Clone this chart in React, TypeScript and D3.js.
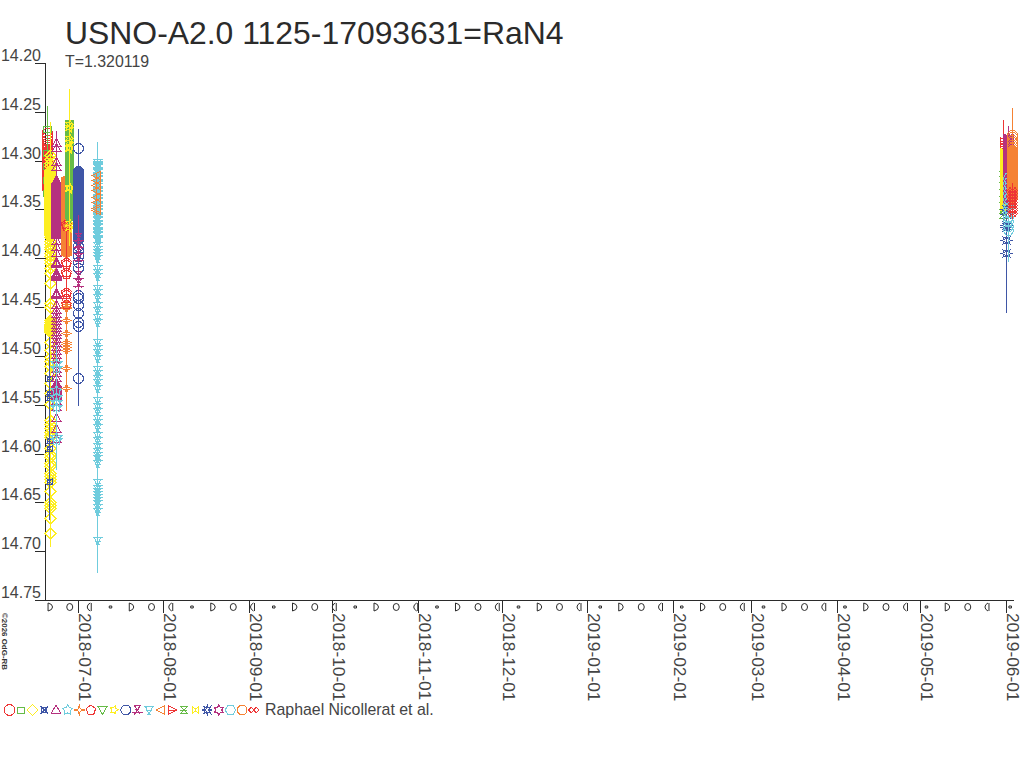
import React from "react";
import * as d3 from "d3";

const W = 1024, H = 768;
const titleText = "USNO-A2.0 1125-17093631=RaN4";
const subtitleText = "T=1.320119";
const creditText = "Raphael Nicollerat et al.";
const copyrightText = "©2026 OdG-RB";
const yTickValues = [14.2, 14.25, 14.3, 14.35, 14.4, 14.45, 14.5, 14.55, 14.6, 14.65, 14.7, 14.75];
const xTickDates = ["2018-07-01","2018-08-01","2018-09-01","2018-10-01","2018-11-01","2018-12-01","2019-01-01","2019-02-01","2019-03-01","2019-04-01","2019-05-01","2019-06-01"];
const minorDays = [-9.9,-2.8,4.6,12,19.4,26.7,34,41.4,48.8,56.2,63.5,70.9,78.3,85.6,93,100.3,107.7,115,122.4,129.8,137.1,144.5,151.8,159.2,166.6,173.9,181.3,188.7,196,203.4,210.7,218.1,225.5,232.8,240.2,247.6,254.9,262.3,269.6,277,284.4,291.7,299.1,306.4,313.8,321.2,328.5,336.6];
const legendColors = ["#ee3535","#66bb47","#fdee21","#3f56a6","#b5317f","#6fccdd","#f58234","#ee3535","#66bb47","#fdee21","#3f56a6","#b5317f","#6fccdd","#f58234","#ee3535","#66bb47","#fdee21","#3f56a6","#b5317f","#6fccdd","#f58234","#ee3535"];

// magnitudes in thousandths above 14
const s0Mag = [272,276,279,282,284,286,288,290,291,292,293,294,295,296,297,298,299,300,301,302,303,304,305,306,307,308,309,310,311,312,313,314,315,316,317,318,319,320,321,322,323,324,325,326,327,328];
const s1Mag = [268,292,305,320,333];
const s2Mag = [294,298,302,306,310,311,312,313,314,315,316,317,318,319,320,321,322,323,324,325,326,327,328,329,330,331,332,333,334,335,336,337,338,339,340,341,342,343,344,345,346,347,348,349,350,351,352,353,354,355,356,357,358,359,360,361,362,363,364,365,366,367,368,369,370,371,372,373,374,375,376,378,382,385,388,391,395,398,402,405,410,415,425,446,450,463,465,467,468,469,470,471,472,473,474,476,486,494,501,505,510,518,528,538,549,566,570,574,578,581,583,594,600,604,610,613,620,623,626,629,638,650,653,656,666,681];
const s3Mag = [523,538,542,586,594,628];
const s4Mag = [282,287,301,307,320,321,322,323,324,325,326,327,328,329,330,331,332,333,334,335,336,337,338,339,340,341,342,343,344,345,346,347,348,349,350,351,352,353,354,355,356,357,358,359,360,361,362,363,364,365,366,367,368,369,370,371,372,373,374,375,376,382,388,395,404,405,406,415,416,417,418,419,436,437,438,448,453,457,461,464,468,471,476,479,483,487,491,495,499,503,508,513,518,523,528,529,530,531,532,533,534,535,536,537,538,539,540,541,546,552,564,575,585];
const s5Mag = [507,512,535,542,547,552,583,586];
const s6Mag = [317,318,319,320,321,322,323,324,325,326,327,328,329,330,331,332,333,334,335,336,337,338,339,340,341,342,343,344,345,346,347,348,349,350,351,352,353,354,355,356,357,358,359,360,361,362,363,364,365,366,367,368,369,370,371,372,373,374,375,376,377,378,379,380,381,382,383,384,385,386,387,388,389,390,391,392,393,394,395,396,397,446,448,450,451,463,477,486,488,491,494,512,533];
const s7Mag = [365,367,404,406,414,416,435,437,441,447];
const s8Mag = [261,262,263,264,265,266,267,268,269,270,271,272,273,274,275,276,277,278,279,280,281,282,283,284,285,286,287,288,289,290,291,292,293,294,295,296,297,298,299,300,301,302,303,304,305,306,307,308,309,310,311,312,313,314,315,316,317,318,319,320,321,322,323,324,325,326,327,328,329,330,331,332,333,334,335,336,337,338,339,340,341,342,343,344,345,346,347,348,349,350,351,352,353,354,355,356,357,358,359,360,361];
const s9Mag = [262,266,277,281,286,287,327,328,364,368];
const s10Mag = [287,311,312,313,314,315,316,317,318,319,320,321,322,323,324,325,326,327,328,329,330,331,332,333,334,335,336,337,338,339,340,341,342,343,344,345,346,347,348,349,350,351,352,353,354,355,356,357,358,359,360,361,362,363,364,365,366,367,368,369,370,371,372,373,374,375,376,377,378,379,380,387,392,398,404,410,438,441,448,456,465,469,523];
const s11Mag = [378,385,392,399,417,425];
const s12Mag = [301,303,304,306,307,310,311,312,315,316,318,319,322,323,324,326,329,330,331,333,334,337,338,340,341,344,345,346,349,350,352,353,356,357,358,360,361,364,365,367,368,371,372,373,375,376,379,380,381,386,390,394,397,400,410,414,418,430,435,440,448,453,460,465,486,492,496,502,513,517,523,527,533,545,551,556,564,568,573,581,586,592,597,602,605,610,629,635,638,641,644,648,651,655,659,689];
const s13Mag = [315,320,325,330,337,342,348,351];
const s14Mag = [280,285,290,296,302,308,315,322,330,338];
const s15Mag = [307,312,318,325,332,338,345,350,355];
const s16Mag = [290,291,292,293,294,295,296,297,298,299,300,301,302,303,304,305,306,307,308,309,310,311,312,313,314,315,316,317,318,319,320,321,322,323,324,325,326,327,328,329,330,331,332,333,334,335,336,337,338,339,340,341,342,343,344,345,346,347];
const s17Mag = [350,355,366,368,381,395];
const s18Mag = [276,277,278,279,280,281,282,283,284,285,286,287,288,289,290,291,292,293,294,295,296,297,298,299,300,301,302,303,304,305,306,307,308,309,310,311,312,313,314,315,316,317,318,319,320,321,322,323,324,325,326,327,328,329,330,331,332,333,334,335,336,337,338,339,340];
const s19Mag = [318,323,328,333,339,344,348,353,358,362,367,371];
const s20Mag = [274,276,279,281,284,287,289,290,291,292,293,294,295,296,297,298,299,300,301,302,303,304,305,306,307,308,309,310,311,312,313,314,315,316,317,318,319,320,321,322,323,324,325,326,327,328,329,330,331,332,333,334,335,336,337];
const s21Mag = [330,333,336,339,342,345,348,351,354];

const seriesDates = ["2018-06-20T00:00","2018-06-19T20:00","2018-06-21T02:00","2018-06-20T20:00","2018-06-23T02:00","2018-06-23T02:00","2018-06-26T18:00","2018-06-26T18:00","2018-06-27T22:00","2018-06-28T00:00","2018-07-01T00:00","2018-07-01T00:00","2018-07-07T22:00","2018-07-07T12:00","2019-05-31T00:00","2019-05-31T02:00","2019-05-31T02:00","2019-06-01T00:00","2019-06-01T20:00","2019-06-01T20:00","2019-06-03T04:00","2019-06-03T00:00"];
const seriesMags = [s0Mag,s1Mag,s2Mag,s3Mag,s4Mag,s5Mag,s6Mag,s7Mag,s8Mag,s9Mag,s10Mag,s11Mag,s12Mag,s13Mag,s14Mag,s15Mag,s16Mag,s17Mag,s18Mag,s19Mag,s20Mag,s21Mag];
const whiskerTop = [262,244,260,481,270,489,310,354,254,227,268,356,281,313,258,300,280,340,265,310,246,323];
const whiskerBottom = [335,350,696,668,560,617,556,443,376,387,551,436,722,356,345,362,352,456,350,404,350,360];

const polygon = (pts: [number, number][]) => {
  const p = d3.path();
  pts.forEach(([x, y], i) => (i ? p.lineTo(x, y) : p.moveTo(x, y)));
  p.closePath();
  return p.toString();
};
const ring = (n: number, r: number, start = -Math.PI / 2, inner?: number) => {
  const count = inner ? n * 2 : n;
  const pts: [number, number][] = [];
  for (let i = 0; i < count; i++) {
    const a = start + (i * 2 * Math.PI) / count;
    const rr = inner && i % 2 ? inner : r;
    pts.push([rr * Math.cos(a), rr * Math.sin(a)]);
  }
  return polygon(pts);
};
const circle = (r: number) => {
  const p = d3.path();
  p.arc(0, 0, r, 0, Math.PI * 2);
  p.closePath();
  return p.toString();
};
const symbolPaths = [
  circle(5.4),
  polygon([[-3.6,-3],[3.6,-3],[3.6,3],[-3.6,3]]),
  ring(4, 5.5),
  polygon([[-2.5,-2.5],[2.5,-2.5],[2.5,2.5],[-2.5,2.5]]) + "M-3.8-3.8L3.8 3.8M3.8-3.8L-3.8 3.8",
  polygon([[0,-5],[4.5,3],[-4.5,3]]),
  ring(5, 5.5, -Math.PI / 2, 2.9),
  ring(4, 5.5, -Math.PI / 2, 1.5),
  ring(5, 5),
  polygon([[-4.5,-3.5],[4.5,-3.5],[0,4.5]]),
  ring(5, 4.4, -Math.PI / 2 + 0.25, 2.2),
  circle(5),
  "M-3-4.5L3-4.5L0 0ZM-5.5 2.5L5.5 2.5M-3 4.5L0 0L3 4.5M-2-1L2-1",
  "M-5-3.5H5M-3.5-3.5L0 4L3.5-3.5ZM-3 0.5H3M-2 4H2",
  polygon([[-4.5,0],[3.5,-4],[3.5,4]]),
  polygon([[-3.5,-4],[4.5,0],[-3.5,4]]) + "M-3.5 0L4.5 0",
  polygon([[-3.5,-3.5],[3.5,-3.5],[-3.5,3.5],[3.5,3.5]]) + "M-3.5 0L3.5 0",
  polygon([[-3,-3.2],[0,-1],[3,-3.2],[3,3.2],[0,1],[-3,3.2]]),
  ring(8, 5, -Math.PI / 2, 2.1),
  ring(6, 5.2, -Math.PI / 2, 2.8),
  ring(6, 5.3, 0),
  ring(8, 5.2, Math.PI / 8),
  "M-5 0L-2.5-3L0 0L2.5-3L5 0L2.5 3L0 0L-2.5 3Z",
];
const minorGlyphs = [
  "M-2-4V4M-2-4Q2.5-3 2.5 0Q2.5 3-2 4",
  "M0-3.5A3 3.5 0 1 0 0 3.5A3 3.5 0 1 0 0-3.5",
  "M1-4V4M0-4Q-3-2.5-3 0Q-3 2.5 0 4",
  "M-1.5-1H1V1H-1.5Z",
];

const x = d3.scaleTime().domain([new Date("2018-07-01T00:00"), new Date("2019-06-01T00:00")]).range([77.5, 1006]);
const y = d3.scaleLinear().domain([14.2, 14.75]).range([63, 600]);
const ink = "#2b2b2b";
const font = "'Liberation Sans', Arial, sans-serif";
const toMag = (m: number) => 14 + m / 1000;
const dayMs = 86400000;

export default function App() {
  const t0 = x.domain()[0].getTime();
  return (
    <svg width={W} height={H} viewBox={`0 0 ${W} ${H}`} style={{ position: "absolute", left: 0, top: 0, background: "#fff" }} fontFamily={font}>
      <text x={65} y={44} fontSize={31.9} fill={ink}>{titleText}</text>
      <text x={65} y={66.5} fontSize={15.9} fill="#444">{subtitleText}</text>

      <g stroke={ink} shapeRendering="crispEdges">
        <line x1={45.5} x2={45.5} y1={63} y2={600.5} />
        <line x1={35} x2={1014} y1={600.5} y2={600.5} />
        {yTickValues.map((v) => (
          <line key={v} x1={35} x2={45} y1={Math.round(y(v)) + 0.5} y2={Math.round(y(v)) + 0.5} />
        ))}
        {xTickDates.map((d) => {
          const px = Math.round(x(new Date(d + "T00:00"))) + 0.5;
          return <line key={d} x1={px} x2={px} y1={600} y2={613} />;
        })}
      </g>

      <g shapeRendering="crispEdges">
        {seriesMags.map((vals, i) => {
          const cx = Math.round(x(new Date(seriesDates[i]))) + 0.5;
          return (
            <g key={i} stroke={legendColors[i]} fill="none">
              <line x1={cx} x2={cx} y1={y(toMag(whiskerTop[i]))} y2={y(toMag(whiskerBottom[i]))} />
              {vals.map((m, j) => (
                <path key={j} d={symbolPaths[i]} transform={`translate(${cx},${Math.round(y(toMag(m))) + 0.5})`} />
              ))}
            </g>
          );
        })}
      </g>

      {yTickValues.map((v) => (
        <text key={v} x={41} y={y(v) - 2} textAnchor="end" fontSize={16} fill="#444">{v.toFixed(2)}</text>
      ))}
      {xTickDates.map((d) => (
        <text key={d} transform={`translate(${x(new Date(d + "T00:00")) + 1},613) rotate(90)`} fontSize={17.3} fill="#444">{d}</text>
      ))}
      <g stroke={ink} fill="none">
        {minorDays.map((d, i) => (
          <path key={i} d={minorGlyphs[i % 4]} transform={`translate(${x(new Date(t0 + d * dayMs))},607)`} />
        ))}
      </g>
      <text transform="translate(1.5,613) rotate(90)" fontSize={8} fontWeight="bold" fill="#333" textLength={57} lengthAdjust="spacingAndGlyphs">{copyrightText}</text>

      <g fill="none" shapeRendering="crispEdges">
        {symbolPaths.map((p, i) => (
          <path key={i} d={p} stroke={legendColors[i]} transform={`translate(${9.5 + i * 11.63},710)`} />
        ))}
      </g>
      <text x={265} y={714.5} fontSize={15.9} fill="#444">{creditText}</text>
    </svg>
  );
}
